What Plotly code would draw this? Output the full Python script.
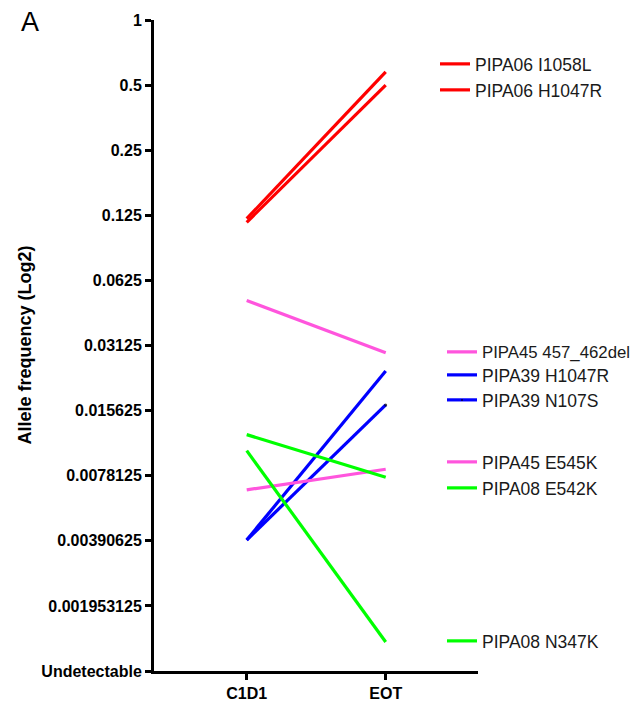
import plotly.graph_objects as go
import math

timepoints = ["C1D1", "EOT"]

series_names = [
    "PIPA06 I1058L", "PIPA06 H1047R", "PIPA45 457_462del", "PIPA39 H1047R",
    "PIPA39 N107S", "PIPA45 E545K", "PIPA08 E542K", "PIPA08 N347K",
]
series_c1d1 = [0.1206, 0.116, 0.0505, 0.00394, 0.00394, 0.00672, 0.0121, 0.0102]
series_eot = [0.576, 0.5, 0.0289, 0.0238, 0.0166, 0.00837, 0.00768, 0.00133]
series_colors = ["#FF0000", "#FF0000", "#FF55DD", "#0000FF",
                 "#0000FF", "#FF55DD", "#00FF00", "#00FF00"]

tick_values = [1, 0.5, 0.25, 0.125, 0.0625, 0.03125, 0.015625, 0.0078125,
               0.00390625, 0.001953125, 0.0009765625]
tick_labels = ["1", "0.5", "0.25", "0.125", "0.0625", "0.03125", "0.015625",
               "0.0078125", "0.00390625", "0.001953125", "Undetectable"]
y_title = "Allele frequency (Log2)"

# page offset (the HTML body has an 8px margin)
OFF = 8
# legend label positions (page pixels)
legend_pix_y = [64, 90, 352, 375, 400, 462, 488, 641]
legend_pix_x = [435, 435, 442, 442, 442, 442, 442, 442]
legend_font = [17.5, 17.5, 16.8, 17.5, 17.5, 17.5, 17.5, 17.5]

W, H = 640 - OFF, 705 - OFF
ML, MT = 154 - OFF, 20 - OFF
MR = W - (478 - OFF)
MB = H - (671 - OFF)
PW = W - ML - MR
PH = H - MT - MB

fig = go.Figure()
for i, name in enumerate(series_names):
    lg = "legend" if i == 0 else f"legend{i+1}"
    marker = dict(size=0.1, color=series_colors[i])
    mode = "lines"
    if name == "PIPA39 N107S":
        mode = "lines+markers"
        marker = dict(size=[0, 3], color="black", line=dict(width=0))
    fig.add_trace(go.Scatter(
        x=timepoints, y=[series_c1d1[i], series_eot[i]],
        mode=mode, name=name,
        line=dict(color=series_colors[i], width=3.2),
        marker=marker, legend=lg, showlegend=True,
    ))

font_family = "Arial, Liberation Sans, sans-serif"
layout_legends = {}
for i in range(len(series_names)):
    key = "legend" if i == 0 else f"legend{i+1}"
    layout_legends[key] = dict(
        x=(legend_pix_x[i] - OFF - ML) / PW,
        y=(H - MB - (legend_pix_y[i] - OFF)) / PH,
        xanchor="left", yanchor="middle",
        xref="paper", yref="paper",
        bgcolor="rgba(0,0,0,0)", borderwidth=0,
        font=dict(family=font_family, size=legend_font[i], color="#1a1a1a"),
        tracegroupgap=0,
    )

fig.update_layout(
    width=W, height=H,
    margin=dict(l=ML, r=MR, t=MT, b=MB, autoexpand=False),
    paper_bgcolor="white", plot_bgcolor="white",
    **layout_legends,
    xaxis=dict(
        type="category", range=[-0.667, 1.664], automargin=False,
        showline=True, linecolor="black", linewidth=3,
        ticks="outside", ticklen=6, tickwidth=3, tickcolor="black",
        tickfont=dict(family=font_family, size=16, color="black", weight="bold"),
        showgrid=False, zeroline=False,
    ),
    yaxis=dict(
        type="log", automargin=False,
        range=[math.log10(tick_values[-1]), math.log10(tick_values[0])],
        tickvals=tick_values, ticktext=tick_labels,
        showline=True, linecolor="black", linewidth=3,
        ticks="outside", ticklen=6, tickwidth=3, tickcolor="black",
        tickfont=dict(family=font_family, size=16, color="black", weight="bold"),
        showgrid=False, zeroline=False,
    ),
    annotations=[
        dict(
            text="A", xref="paper", yref="paper",
            x=(30 - OFF - ML) / PW, y=(H - MB - (22 - OFF)) / PH,
            xanchor="center", yanchor="middle", showarrow=False,
            font=dict(family=font_family, size=27, color="black"),
        ),
        dict(
            text=y_title, xref="paper", yref="paper",
            x=(24 - OFF - ML) / PW, y=0.5, textangle=-90,
            xanchor="center", yanchor="middle", showarrow=False,
            font=dict(family=font_family, size=18, color="black", weight="bold"),
        ),
    ],
)

fig.write_html("out.html")
